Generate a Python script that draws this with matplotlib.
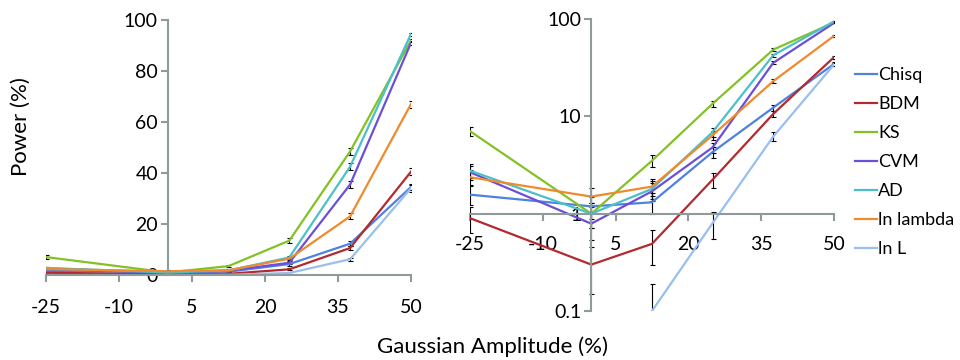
import numpy as np
import matplotlib
matplotlib.use('Agg')
import matplotlib.pyplot as plt
from matplotlib.ticker import FixedLocator, FuncFormatter, NullLocator

plt.rcParams['font.family'] = ['Lato', 'DejaVu Sans']
plt.rcParams['axes.unicode_minus'] = False

# amplitudes (%) at which power was measured
amplitude = [-25, 0, 12.5, 25, 37.5, 50]

tests = ['Chisq', 'BDM', 'KS', 'CVM', 'AD', 'ln lambda', 'ln L']
colors = ['#4f81e0', '#b22a2e', '#82c225', '#6c4fd6', '#4bc0c8', '#f08a2e', '#98bfee']

# power (%) per test
chisq = [1.57, 1.19, 1.31, 4.3, 12.3, 34.5]
bdm = [0.90, 0.30, 0.49, 2.24, 10.6, 40.5]
ks = [7.05, 1.0, 3.5, 13.5, 48.5, 92.0]
cvm = [2.67, 0.79, 1.7, 4.8, 35.5, 91.0]
ad = [2.77, 1.0, 1.8, 6.9, 42.5, 94.5]
ln_lambda = [2.37, 1.5, 1.9, 6.4, 23.0, 67.0]
ln_l = [0.0, 0.0, 0.1, 0.8, 6.2, 34.0]

# standard errors (%)
chisq_err = [0.35, 0.30, 0.31, 0.56, 0.91, 1.32]
bdm_err = [0.26, 0.15, 0.19, 0.41, 0.85, 1.36]
ks_err = [0.71, 0.28, 0.51, 0.95, 1.39, 0.75]
cvm_err = [0.45, 0.25, 0.36, 0.59, 1.33, 0.79]
ad_err = [0.46, 0.28, 0.37, 0.70, 1.37, 0.63]
ln_lambda_err = [0.42, 0.34, 0.38, 0.68, 1.17, 1.30]
ln_l_err = [0.0, 0.0, 0.09, 0.25, 0.67, 1.31]

values = [chisq, bdm, ks, cvm, ad, ln_lambda, ln_l]
errors = [chisq_err, bdm_err, ks_err, cvm_err, ad_err, ln_lambda_err, ln_l_err]

xticks = [-25, -10, 5, 20, 35, 50]
axis_grey = '#8d9b9b'
fs = 14

fig = plt.figure(figsize=(9.6, 3.6), dpi=100)
ax1 = fig.add_axes([0.048, 0.236, 0.380, 0.708])
ax2 = fig.add_axes([0.4896, 0.136, 0.379, 0.811])

for ax in (ax1, ax2):
    for name, vals, errs, c in zip(tests, values, errors, colors):
        v = np.array(vals, dtype=float)
        if ax is ax2:
            v = np.where(v > 0, v, np.nan)
        ax.errorbar(amplitude, v, yerr=errs, color=c, lw=1.6, label=name,
                    ecolor='black', elinewidth=0.8, capsize=1.8, capthick=0.8)
    ax.set_xlim(-25, 50)
    ax.spines['top'].set_visible(False)
    ax.spines['right'].set_visible(False)
    ax.spines['left'].set_position(('data', 0))
    for s in ('left', 'bottom'):
        ax.spines[s].set_color(axis_grey)
        ax.spines[s].set_linewidth(1.5)
    ax.xaxis.set_major_locator(FixedLocator(xticks))
    ax.tick_params(axis='both', colors=axis_grey, labelcolor='black',
                   labelsize=fs, length=5, width=1.5, direction='out')
    ax.tick_params(axis='y', pad=2)
    ax.patch.set_alpha(0)

ax1.tick_params(axis='x', pad=12)
ax2.tick_params(axis='x', pad=11)

ax1.set_ylim(0, 100)
ax1.set_yticks([0, 20, 40, 60, 80, 100])

ax2.set_yscale('log')
ax2.set_ylim(0.1, 100)
ax2.spines['bottom'].set_position(('data', 1))
ax2.yaxis.set_major_locator(FixedLocator([0.1, 1, 10, 100]))
ax2.yaxis.set_minor_locator(NullLocator())
ax2.yaxis.set_major_formatter(FuncFormatter(lambda v, p: '%g' % v))

fig.text(0.022, 1 - 127 / 360, 'Power (%)', rotation=90, fontsize=16,
         ha='center', va='center')
fig.text(0.513, 1 - 347 / 360, 'Gaussian Amplitude (%)', fontsize=16,
         ha='center', va='center')

handles, labels = ax2.get_legend_handles_labels()
handles = [h[0] for h in handles]
fig.legend(handles, labels, loc='upper left', bbox_to_anchor=(0.891, 0.814),
           frameon=False, fontsize=13, handlelength=1.2, handletextpad=0.05,
           labelspacing=0.72, borderaxespad=0, borderpad=0)

fig.savefig('out.png', dpi=100)
